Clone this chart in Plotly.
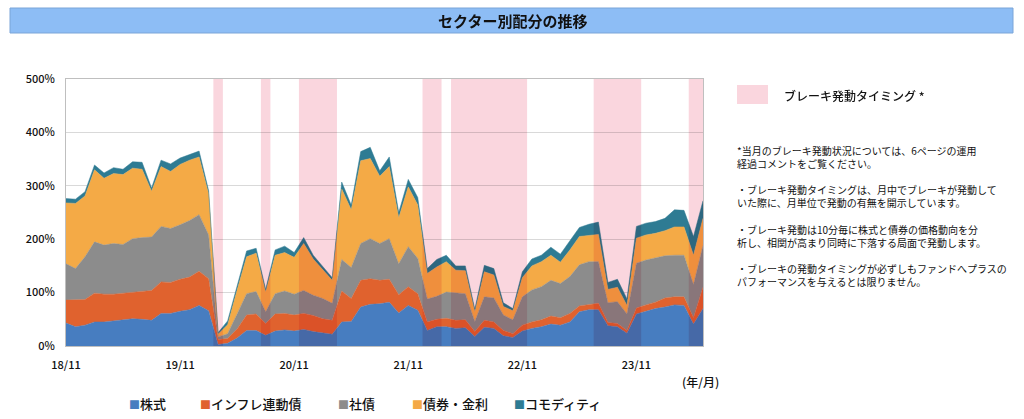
import plotly.graph_objects as go

# ---------------- data ----------------
MONTHS = [
    "2018-11", "2018-12",
    "2019-01", "2019-02", "2019-03", "2019-04", "2019-05", "2019-06",
    "2019-07", "2019-08", "2019-09", "2019-10", "2019-11", "2019-12",
    "2020-01", "2020-02", "2020-03", "2020-04", "2020-05", "2020-06",
    "2020-07", "2020-08", "2020-09", "2020-10", "2020-11", "2020-12",
    "2021-01", "2021-02", "2021-03", "2021-04", "2021-05", "2021-06",
    "2021-07", "2021-08", "2021-09", "2021-10", "2021-11", "2021-12",
    "2022-01", "2022-02", "2022-03", "2022-04", "2022-05", "2022-06",
    "2022-07", "2022-08", "2022-09", "2022-10", "2022-11", "2022-12",
    "2023-01", "2023-02", "2023-03", "2023-04", "2023-05", "2023-06",
    "2023-07", "2023-08", "2023-09", "2023-10", "2023-11", "2023-12",
    "2024-01", "2024-02", "2024-03", "2024-04", "2024-05", "2024-06",
]

STOCKS = [43, 36, 39, 45, 45, 47, 48, 51, 50, 48,
          61, 61, 65, 68, 76, 66, 3, 5, 15, 29,
          29, 20, 28, 30, 28, 31, 27, 24, 22, 45,
          46, 73, 78, 79, 82, 62, 76, 67, 29, 36,
          36, 33, 34, 18, 35, 33, 19, 16, 28, 33,
          36, 41, 39, 45, 64, 68, 68, 38, 36, 24,
          60, 65, 70, 73, 77, 76, 41, 70]
INFLATION = [43, 50, 48, 54, 52, 50, 51, 50, 53, 56,
             59, 58, 60, 61, 64, 60, 9, 9, 17, 29,
             31, 22, 32, 31, 30, 30, 30, 27, 26, 58,
             43, 50, 48, 44, 43, 34, 35, 31, 16, 14,
             16, 15, 15, 9, 13, 12, 10, 7, 11, 12,
             13, 15, 14, 16, 11, 10, 12, 6, 6, 5,
             11, 12, 12, 17, 15, 16, 12, 40]
CORPORATE = [68, 59, 80, 96, 92, 95, 91, 100, 100, 100,
             104, 101, 102, 106, 106, 82, 5, 9, 28, 40,
             42, 22, 38, 42, 39, 43, 38, 38, 32, 59,
             58, 69, 75, 69, 76, 58, 75, 66, 43, 43,
             49, 51, 49, 19, 44, 45, 29, 26, 53, 60,
             62, 67, 64, 69, 77, 80, 78, 37, 41, 31,
             84, 84, 83, 79, 78, 78, 62, 78]
BONDS = [114, 122, 114, 135, 125, 131, 131, 132, 128, 86,
         112, 107, 113, 113, 108, 77, 5, 17, 45, 69,
         72, 37, 72, 72, 69, 88, 68, 54, 43, 132,
         108, 155, 150, 126, 135, 86, 112, 100, 48, 55,
         57, 43, 43, 18, 47, 43, 16, 17, 36, 45,
         47, 47, 40, 50, 53, 49, 51, 25, 27, 16,
         47, 47, 46, 47, 53, 53, 55, 51]
COMMODITY = [8, 8, 8, 9, 10, 11, 10, 12, 13, 6,
             12, 14, 12, 10, 11, 6, 3, 7, 7, 11,
             9, 5, 10, 12, 9, 11, 7, 7, 5, 13,
             9, 17, 21, 10, 18, 10, 14, 14, 9, 14,
             12, 8, 9, 5, 12, 12, 7, 4, 11, 13,
             12, 15, 15, 17, 17, 21, 23, 13, 15, 12,
             22, 22, 22, 23, 32, 31, 35, 33]

SERIES_NAMES = ["株式", "インフレ連動債", "社債", "債券・金利", "コモディティ"]
SERIES_VALUES = [STOCKS, INFLATION, CORPORATE, BONDS, COMMODITY]
SERIES_COLORS = ["#477DC0", "#E0622E", "#8C8C8C", "#F4AA46", "#2E7B93"]

BRAKE_MONTHS = ["2020-03", "2020-08",
                "2020-12", "2021-01", "2021-02", "2021-03",
                "2022-01", "2022-02",
                "2022-04", "2022-05", "2022-06", "2022-07",
                "2022-08", "2022-09", "2022-10", "2022-11",
                "2023-07", "2023-08", "2023-09", "2023-10", "2023-11",
                "2024-05", "2024-06"]

TICK_MONTHS = ["2018-11", "2019-11", "2020-11", "2021-11", "2022-11", "2023-11"]
TICK_TEXT = ["18/11", "19/11", "20/11", "21/11", "22/11", "23/11"]
Y_TICKS = [0, 100, 200, 300, 400, 500]
Y_TICK_TEXT = ["0%", "100%", "200%", "300%", "400%", "500%"]

TITLE = "セクター別配分の推移"
BRAKE_LABEL = "ブレーキ発動タイミング *"
NOTES = [
    "*当月のブレーキ発動状況については、6ページの運用<br>経過コメントをご覧ください。",
    "・ブレーキ発動タイミングは、月中でブレーキが発動して<br>いた際に、月単位で発動の有無を開示しています。",
    "・ブレーキ発動は10分毎に株式と債券の価格動向を分<br>析し、相関が高まり同時に下落する局面で発動します。",
    "・ブレーキの発動タイミングが必ずしもファンドへプラスの<br>パフォーマンスを与えるとは限りません。",
]
UNIT_LABEL = "(年/月)"

# ---------------- layout helpers ----------------
W, H = 1024, 419
ML, MR, MT, MB = 66, 321, 79, 73
PW, PH = W - ML - MR, H - MT - MB
JP = "Noto Sans CJK JP"
PINK = "#FAD6DE"


def px(x):
    return (x - ML) / PW


def py(y):
    return (H - MB - y) / PH


fig = go.Figure()

for name, vals, col in zip(SERIES_NAMES, SERIES_VALUES, SERIES_COLORS):
    fig.add_trace(go.Scatter(
        x=MONTHS, y=vals, name=name, mode="lines",
        stackgroup="one", line=dict(width=0.5, color=col),
        fillcolor=col, showlegend=False, hoverinfo="x+y+name",
    ))

# brake bands: merge consecutive months into runs
last = len(MONTHS) - 1
idx = sorted(MONTHS.index(m) for m in BRAKE_MONTHS)
runs = []
for k in idx:
    if runs and k == runs[-1][1] + 1:
        runs[-1][1] = k
    else:
        runs.append([k, k])
for a, b in runs:
    fig.add_shape(type="rect", xref="x", yref="y",
                  x0=max(a - 0.5, 0), x1=min(b + 0.5, last), y0=0, y1=500,
                  fillcolor=PINK, line=dict(width=0), layer="above")

# title bar
fig.add_shape(type="rect", xref="paper", yref="paper",
              x0=px(10), x1=px(1013), y0=py(33), y1=py(8),
              fillcolor="#8DBDF5", line=dict(color="#7AA5D8", width=1))
fig.add_annotation(xref="paper", yref="paper", x=px(512), y=py(20.5),
                   text="<b>" + TITLE + "</b>", showarrow=False,
                   font=dict(family=JP, size=15, color="#111111"),
                   xanchor="center", yanchor="middle")

# brake legend swatch
fig.add_shape(type="rect", xref="paper", yref="paper",
              x0=px(737), x1=px(768), y0=py(104), y1=py(85),
              fillcolor=PINK, line=dict(width=0))
fig.add_annotation(xref="paper", yref="paper", x=px(782), y=py(95),
                   text=BRAKE_LABEL, showarrow=False,
                   font=dict(family=JP, size=12, color="#111111", weight=500),
                   xanchor="left", yanchor="middle")

note_tops = [141, 180, 220, 259]
for txt, yt in zip(NOTES, note_tops):
    fig.add_annotation(xref="paper", yref="paper", x=px(735), y=py(yt),
                       text=txt, showarrow=False, align="left",
                       font=dict(family=JP, size=10, color="#111111"),
                       xanchor="left", yanchor="top")

fig.add_annotation(xref="paper", yref="paper", x=px(700), y=py(382),
                   text=UNIT_LABEL, showarrow=False,
                   font=dict(family=JP, size=12, color="#111111", weight=500),
                   xanchor="center", yanchor="middle")

# manual legend
legend_x = [127, 198, 336, 410, 512]
for name, col, lx in zip(SERIES_NAMES, SERIES_COLORS, legend_x):
    fig.add_annotation(xref="paper", yref="paper", x=px(lx), y=py(403),
                       text="<span style='color:%s;font-size:11px'>■</span>%s" % (col, name),
                       showarrow=False,
                       font=dict(family=JP, size=13, color="#111111", weight=500),
                       xanchor="left", yanchor="middle")

fig.update_layout(
    width=W, height=H,
    margin=dict(l=ML, r=MR, t=MT, b=MB),
    paper_bgcolor="white", plot_bgcolor="white",
    showlegend=False,
    font=dict(family=JP, color="#111111"),
)
fig.update_xaxes(type="category", range=[0, last],
                 tickvals=TICK_MONTHS, ticktext=TICK_TEXT,
                 tickfont=dict(family=JP, size=11, color="#111111", weight=500),
                 showgrid=False, showline=True, linecolor="#BFBFBF",
                 mirror=True, ticks="", ticklabelstandoff=9)
fig.update_yaxes(range=[0, 500], tickvals=Y_TICKS, ticktext=Y_TICK_TEXT,
                 tickfont=dict(family=JP, size=11, color="#111111", weight=500),
                 showgrid=True, gridcolor="#D9D9D9", gridwidth=1,
                 showline=True, linecolor="#BFBFBF", mirror=True,
                 zeroline=False, ticks="", ticklabelstandoff=8)

POST = (
    "document.documentElement.style.margin='0';"
    "document.body.style.margin='0';document.body.style.padding='0';"
    "var ls=document.querySelectorAll('.layer-above');"
    "for(var i=0;i<ls.length;i++){ls[i].style.mixBlendMode='multiply';}"
)

fig.write_html("out.html", post_script=POST,
               config={"displayModeBar": False, "staticPlot": True})
